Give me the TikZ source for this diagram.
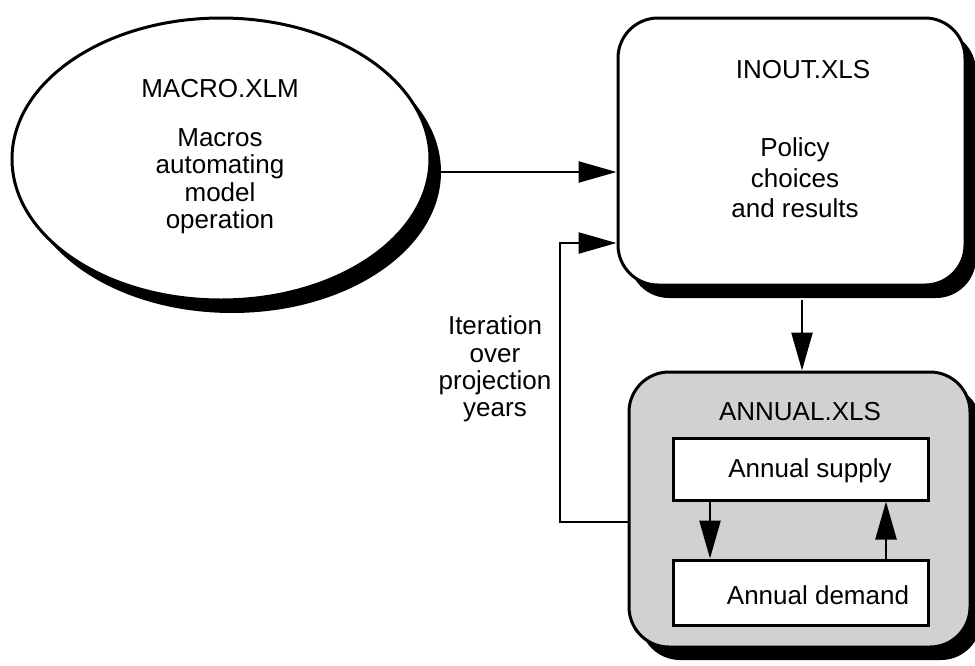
\documentclass[tikz,border=0pt]{standalone}
\usepackage{fontspec}
\setmainfont{Liberation Sans}
\usetikzlibrary{shapes.geometric,shadows,arrows.meta,calc}
\begin{document}
\begin{tikzpicture}[x=1pt,y=-1pt,
  every node/.style={font=\fontsize{26}{28}\selectfont},
  shadowed/.style={drop shadow={shadow xshift=11pt,shadow yshift=-13pt,opacity=1,fill=black}},
  outline/.style={draw,line width=3pt},
  roundbox/.style={outline,rectangle,rounded corners=40pt,inner sep=0pt,shadowed},
  innerbox/.style={outline,rectangle,fill=white,minimum width=255pt,inner sep=0pt},
  conn/.style={line width=2.5pt},
  arr/.style={conn,-{Triangle[length=38pt,width=21pt]}}]
\useasboundingbox (0,0) rectangle (975,665);
\fill[white] (0,0) rectangle (975,665);

% MACRO.XLM ellipse
\node[outline,ellipse,fill=white,minimum width=418pt,minimum height=282pt,inner sep=0pt,shadowed] (mac) at (221,159) {};
\node (macT) at (220,89) {MACRO.XLM};
\node[align=center,font=\fontsize{26}{27.5}\selectfont] (macB) at (220,181) {Macros\\automating\\model\\operation};

% INOUT.XLS
\node[roundbox,fill=white,minimum width=347pt,minimum height=267pt] (inout) at (791.5,151.5) {};
\node (inT) at (803,70) {INOUT.XLS};
\node[align=center,font=\fontsize{26}{30.5}\selectfont] (inB) at (795,178) {Policy\\choices\\and results};

% ANNUAL.XLS
\node[roundbox,fill=black!18,minimum width=341pt,minimum height=275pt] (ann) at (799.5,509.5) {};
\node (annT) at (800,412) {ANNUAL.XLS};
\node[innerbox,minimum height=62pt] (sup) at (800.5,469) {};
\node (supT) at (810,471) {Annual supply};
\node[innerbox,minimum height=65pt] (dem) at (800.5,592.5) {};
\node (demT) at (818,595) {Annual demand};

% iteration label
\node[align=center,font=\fontsize{26}{27.3}\selectfont] (iter) at (495,369) {Iteration\\over\\projection\\years};

% connectors
\draw[arr] ([yshift=-13pt]mac.east) -- ([yshift=-13pt]mac.east -| inout.west);
\coordinate (lb) at (560,522);
\coordinate (lt) at (560,243);
\draw[arr] (lb -| ann.west) -- (lb) -- (lt) -- (lt -| inout.west);
\coordinate (ds) at ([xshift=10.5pt,yshift=-13pt]inout.south);
\draw[arr] (ds) -- (ds |- ann.north);
\draw[arr] ([xshift=-90.5pt]sup.south) -- ([xshift=-90.5pt]dem.north);
\draw[arr] ([xshift=85.5pt]dem.north) -- ([xshift=85.5pt]sup.south);
\end{tikzpicture}
\end{document}
